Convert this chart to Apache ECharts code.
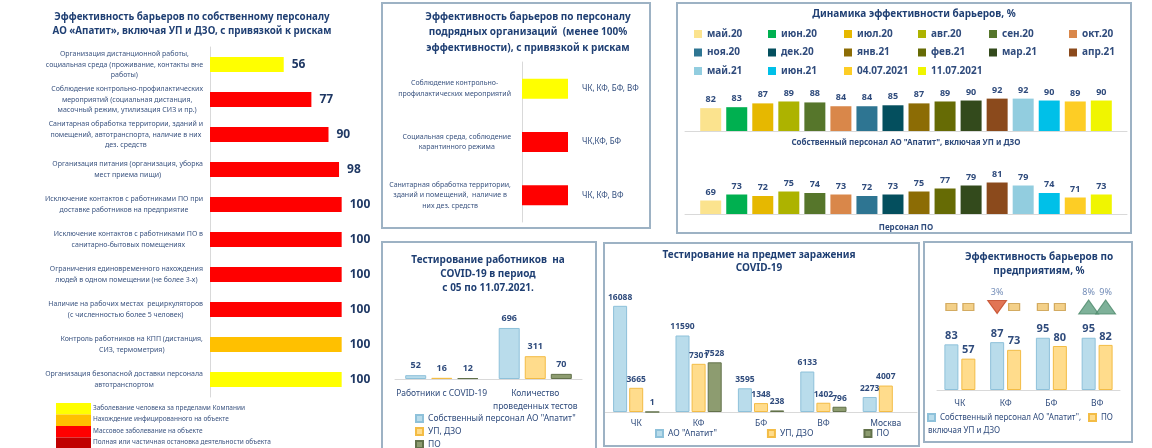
<!DOCTYPE html>
<html><head><meta charset="utf-8">
<script src="https://cdn.jsdelivr.net/npm/echarts@6/dist/echarts.min.js"></script>
<style>
html,body{margin:0;padding:0;background:#fff;width:1152px;height:448px;overflow:hidden;}
.p{position:absolute;box-sizing:border-box;}
.b{border:2px solid #9DB2C4;}
</style></head><body>
<div id="c1" class="p" style="left:0;top:0;width:380px;height:448px"></div>
<div id="c2" class="p b" style="left:381px;top:2px;width:270px;height:227px"></div>
<div id="c3" class="p b" style="left:676px;top:2px;width:456px;height:232px"></div>
<div id="c4" class="p b" style="left:381px;top:241px;width:216px;height:210px"></div>
<div id="c5" class="p b" style="left:603px;top:242px;width:317px;height:205px"></div>
<div id="c6" class="p b" style="left:923px;top:241px;width:210px;height:202px"></div>
<script>
// ---------- DATA ----------
const riskColors = ['#FFFF00', '#FFC000', '#FF0000', '#C00000'];
const riskNames = ['Заболевание человека за пределами Компании', 'Нахождение инфицированного на объекте', 'Массовое заболевание на объекте', 'Полная или частичная остановка деятельности объекта'];

const ownBarrierNames = [
  'Организация дистанционной работы,\nсоциальная среда (проживание, контакты вне\nработы)',
  'Соблюдение контрольно-профилактических\nмероприятий (социальная дистанция,\nмасочный режим, утилизация СИЗ и пр.)',
  'Санитарная обработка территории, зданий и\nпомещений, автотранспорта, наличие в них\nдез. средств',
  'Организация питания (организация, уборка\nмест приема пищи)',
  'Исключение контактов с работниками ПО при\nдоставке работников на предприятие',
  'Исключение контактов с работниками ПО в\nсанитарно-бытовых помещениях',
  'Ограничения единовременного нахождения\nлюдей в одном помещении (не более 3-х)',
  'Наличие на рабочих местах  рециркуляторов\n(с численностью более 5 человек)',
  'Контроль работников на КПП (дистанция,\nСИЗ, термометрия)',
  'Организация безопасной доставки персонала\nавтотранспортом'
];
const ownBarrierValues = [56, 77, 90, 98, 100, 100, 100, 100, 100, 100];
const ownBarrierRisk = [0, 2, 2, 2, 2, 2, 2, 2, 1, 0];

const contractorNames = [
  'Соблюдение контрольно-\nпрофилактических мероприятий',
  'Социальная среда, соблюдение\nкарантинного режима',
  'Санитарная обработка территории,\nзданий и помещений,  наличие в\nних дез. средств'
];
const contractorValues = [100, 100, 100];
const contractorRisk = [0, 2, 2];
const contractorSites = ['ЧК, КФ, БФ, ВФ', 'ЧК,КФ, БФ', 'ЧК, КФ, ВФ'];

const monthNames = ['май.20', 'июн.20', 'июл.20', 'авг.20', 'сен.20', 'окт.20', 'ноя.20', 'дек.20', 'янв.21', 'фев.21', 'мар.21', 'апр.21', 'май.21', 'июн.21', '04.07.2021', '11.07.2021'];
const monthColors = ['#FBE38E', '#00B050', '#E6B800', '#ADB300', '#56762B', '#D9874A', '#2E7592', '#044F5E', '#8C6C05', '#666B05', '#334A1C', '#8B4A1C', '#92CDDF', '#00C0E8', '#FDCD25', '#F0F500'];
const dynGroups = ['Собственный персонал АО "Апатит", включая УП и ДЗО', 'Персонал ПО'];
const dynOwn = [82, 83, 87, 89, 88, 84, 84, 85, 87, 89, 90, 92, 92, 90, 89, 90];
const dynPO = [69, 73, 72, 75, 74, 73, 72, 73, 75, 77, 79, 81, 79, 74, 71, 73];

const testCats = ['Работники с COVID-19', 'Количество\nпроведенных тестов'];
const testSeriesNames = ['Собственный персонал АО "Апатит"', 'УП, ДЗО', 'ПО'];
const testOwn = [52, 696];
const testUdzo = [16, 311];
const testPO = [12, 70];

const infCats = ['ЧК', 'КФ', 'БФ', 'ВФ', 'Москва'];
const infSeriesNames = ['АО "Апатит"', 'УП, ДЗО', 'ПО'];
const infOwn = [16088, 11590, 3595, 6133, 2273];
const infUdzo = [3665, 7301, 1348, 1402, 4007];
const infPO = [1, 7528, 238, 796, null];

const entCats = ['ЧК', 'КФ', 'БФ', 'ВФ'];
const entSeriesNames = ['Собственный персонал АО "Апатит", включая УП и ДЗО', 'ПО'];
const entOwnLegendLines = ['Собственный персонал АО "Апатит",', 'включая УП и ДЗО'];
const entOwn = [83, 87, 95, 95];
const entPO = [57, 73, 80, 82];
const entOwnChange = [0, -3, 0, 8];
const entPOChange = [0, 0, 0, 9];

// ---------- STYLE ----------
const FONT = '"Noto Sans", "DejaVu Sans", sans-serif';
const TITLE_COLOR = '#1F3F73';
const TEXT_COLOR = '#2F4B7C';
const LABEL_COLOR = '#3B5480';
const AXIS_COLOR = '#D9D9D9';
const BLUE = {color: '#B9DCEB', borderColor: '#8EC1DA', borderWidth: 1};
const YELLOW = {color: '#FFDC8C', borderColor: '#F3BC45', borderWidth: 1};
const GREEN = {color: '#8D9C70', borderColor: '#62714A', borderWidth: 1};

function mkTitle(text, cx, top, lh, size) {
  return {text: text, left: cx, top: top, textAlign: 'center', padding: 0,
    textStyle: {fontFamily: FONT, fontSize: size || 10, fontWeight: 'bold', color: TITLE_COLOR, lineHeight: lh || 14}};
}
function centeredLines(v) { return v.split('\n').map(l => '{c|' + l + '}').join('\n'); }
function valLabel(size, dist) {
  return {show: true, position: 'top', distance: dist, fontFamily: FONT, fontSize: size, fontWeight: 'bold', color: TEXT_COLOR};
}

// ---------- CHART 1 ----------
const ch1 = echarts.init(document.getElementById('c1'));
const legendGraphics = [];
riskColors.forEach((c, i) => {
  legendGraphics.push({type: 'rect', left: 56, top: 403 + i * 11.5, shape: {width: 35, height: 11.5}, style: {fill: c}});
  legendGraphics.push({type: 'text', left: 93, top: 404.5 + i * 11.5, style: {text: riskNames[i], font: '6.5px ' + FONT, fill: LABEL_COLOR}});
});
ch1.setOption({
  animation: false,
  title: mkTitle('Эффективность барьеров по собственному персоналу\nАО «Апатит», включая УП и ДЗО, с привязкой к рискам', 192, 10, 14, 9.8),
  grid: {left: 210, top: 47, width: 158, height: 350},
  xAxis: {type: 'value', min: 0, max: 120, show: false},
  yAxis: {type: 'category', inverse: true, data: ownBarrierNames,
    axisLine: {show: true, lineStyle: {color: AXIS_COLOR}}, axisTick: {show: false},
    axisLabel: {interval: 0, margin: 7, formatter: centeredLines, rich: {c: {align: 'center', fontFamily: FONT, fontSize: 7, color: LABEL_COLOR, lineHeight: 10.5}}}},
  series: [{type: 'bar', barWidth: 15,
    data: ownBarrierValues.map((v, i) => ({value: v, itemStyle: {color: riskColors[ownBarrierRisk[i]]}})),
    label: {show: true, position: 'right', distance: 8, fontFamily: FONT, fontSize: 12, fontWeight: 'bold', color: '#1F3864'}}],
  graphic: legendGraphics
});

// ---------- CHART 2 ----------
const ch2 = echarts.init(document.getElementById('c2'));
ch2.setOption({
  animation: false,
  title: mkTitle('Эффективность барьеров по персоналу\nподрядных организаций  (менее 100%\nэффективности), с привязкой к рискам', 145, 5, 15.5, 10),
  grid: {left: 139, top: 58, width: 46, height: 160},
  xAxis: {type: 'value', min: 0, max: 100, show: false},
  yAxis: {type: 'category', inverse: true, data: contractorNames,
    axisLine: {show: true, lineStyle: {color: AXIS_COLOR}}, axisTick: {show: false},
    axisLabel: {interval: 0, margin: 11, formatter: centeredLines, rich: {c: {align: 'center', fontFamily: FONT, fontSize: 7, color: LABEL_COLOR, lineHeight: 10.5}}}},
  series: [{type: 'bar', barWidth: 20,
    data: contractorValues.map((v, i) => ({value: v, itemStyle: {color: riskColors[contractorRisk[i]]},
      label: {formatter: contractorSites[i]}})),
    label: {show: true, position: 'right', distance: 14, fontFamily: FONT, fontSize: 8, color: TEXT_COLOR}}]
});

// ---------- CHART 3 ----------
const ch3 = echarts.init(document.getElementById('c3'));
const legColX = [16, 90, 166, 240, 311, 391];
const legRowY = [25, 43.5, 62];
const legends3 = monthNames.map((n, i) => ({
  data: [n], left: legColX[i % 6], top: legRowY[Math.floor(i / 6)], padding: 0,
  itemWidth: 8, itemHeight: 8, icon: 'rect',
  textStyle: {fontFamily: FONT, fontSize: 10, fontWeight: 'bold', color: TEXT_COLOR}
}));
const series3 = [];
[dynOwn, dynPO].forEach((arr, g) => {
  monthNames.forEach((n, i) => {
    series3.push({type: 'bar', name: n, xAxisIndex: g, yAxisIndex: g, data: [arr[i]],
      barWidth: 21, barGap: '24%', itemStyle: {color: monthColors[i]}, label: valLabel(9, 4)});
  });
});
ch3.setOption({
  animation: false,
  title: mkTitle('Динамика эффективности барьеров, %', 236, 3, 14, 10),
  legend: legends3,
  grid: [{left: 7, top: 87, width: 442, height: 40}, {left: 7, top: 172.5, width: 442, height: 40.5}],
  xAxis: dynGroups.map((gname, g) => ({type: 'category', gridIndex: g, data: [gname],
    axisLine: {lineStyle: {color: AXIS_COLOR}}, axisTick: {show: false},
    axisLabel: {interval: 0, margin: g ? 10 : 8, fontFamily: FONT, fontSize: 8, fontWeight: 'bold', color: TEXT_COLOR}})),
  yAxis: [{type: 'value', gridIndex: 0, min: 58, max: 100, show: false},
          {type: 'value', gridIndex: 1, min: 60, max: 85, show: false}],
  series: series3
});

// ---------- CHART 4 ----------
const ch4 = echarts.init(document.getElementById('c4'));
ch4.setOption({
  animation: false,
  title: mkTitle('Тестирование работников  на\nCOVID-19 в период\nс 05 по 11.07.2021.', 105, 10, 14, 10),
  legend: {orient: 'vertical', left: 32, top: 171, padding: 0, itemGap: 4, itemWidth: 7, itemHeight: 7, icon: 'rect',
    data: testSeriesNames, textStyle: {fontFamily: FONT, fontSize: 8.5, color: TEXT_COLOR}},
  grid: {left: 12, top: 70, width: 187, height: 66},
  xAxis: {type: 'category', data: testCats, axisLine: {lineStyle: {color: AXIS_COLOR}}, axisTick: {show: false},
    axisLabel: {interval: 0, margin: 8, fontFamily: FONT, fontSize: 8.5, color: TEXT_COLOR, lineHeight: 13}},
  yAxis: {type: 'value', min: 0, max: 900, show: false},
  series: [
    {type: 'bar', name: testSeriesNames[0], data: testOwn, barWidth: 21, barGap: '24%', itemStyle: BLUE, label: valLabel(9, 5)},
    {type: 'bar', name: testSeriesNames[1], data: testUdzo, barWidth: 21, barGap: '24%', itemStyle: YELLOW, label: valLabel(9, 5)},
    {type: 'bar', name: testSeriesNames[2], data: testPO, barWidth: 21, barGap: '24%', itemStyle: GREEN, label: valLabel(9, 5)}
  ]
});

// ---------- CHART 5 ----------
const ch5 = echarts.init(document.getElementById('c5'));
ch5.setOption({
  animation: false,
  title: mkTitle('Тестирование на предмет заражения\nCOVID-19', 154, 4, 13.5, 10),
  legend: {left: 50, top: 185, padding: 0, itemGap: 50, itemWidth: 7, itemHeight: 7, icon: 'rect',
    data: infSeriesNames, textStyle: {fontFamily: FONT, fontSize: 8.5, color: TEXT_COLOR}},
  grid: {left: 0, top: 36, width: 312, height: 132},
  xAxis: {type: 'category', data: infCats, axisLine: {lineStyle: {color: AXIS_COLOR}}, axisTick: {show: false},
    axisLabel: {interval: 0, margin: 7, fontFamily: FONT, fontSize: 8.5, color: TEXT_COLOR}},
  yAxis: {type: 'value', min: 0, max: 20000, show: false},
  series: [
    {type: 'bar', name: infSeriesNames[0], data: infOwn, barWidth: 14, barGap: '15%', itemStyle: BLUE, label: valLabel(8.5, 4)},
    {type: 'bar', name: infSeriesNames[1], data: infUdzo, barWidth: 14, barGap: '15%', itemStyle: YELLOW, label: valLabel(8.5, 4)},
    {type: 'bar', name: infSeriesNames[2], data: infPO, barWidth: 14, barGap: '15%', itemStyle: GREEN, label: valLabel(8.5, 4)}
  ]
});

// ---------- CHART 6 ----------
const ch6 = echarts.init(document.getElementById('c6'));
function changeMarker(c) {
  if (c > 0) return {value: 0, symbol: 'triangle', symbolSize: [20, 14], symbolRotate: 0,
    itemStyle: {color: '#5E9E80', borderColor: '#4E8A6C', borderWidth: 1},
    label: {show: true, formatter: c + '%'}};
  if (c < 0) return {value: 0, symbol: 'triangle', symbolSize: [19, 13], symbolRotate: 180,
    itemStyle: {color: '#D9532B', borderColor: '#C04420', borderWidth: 1},
    label: {show: true, formatter: Math.abs(c) + '%'}};
  return {value: 0, symbol: 'rect', symbolSize: [11, 7], itemStyle: {color: '#F0C46C', borderColor: '#C99C48', borderWidth: 1},
    label: {show: false}};
}
const markerLabel = {position: 'top', distance: 3, fontFamily: FONT, fontSize: 9, color: '#4F6FA5'};
ch6.setOption({
  animation: false,
  title: mkTitle('Эффективность барьеров по\nпредприятиям, %', 114, 7, 14, 10),
  legend: [
    {left: 2, top: 170, padding: 0, itemWidth: 7, itemHeight: 7, icon: 'rect', data: [entSeriesNames[0]],
      formatter: () => entOwnLegendLines[0],
      textStyle: {fontFamily: FONT, fontSize: 8, color: TEXT_COLOR}},
    {left: 163, top: 170, padding: 0, itemWidth: 7, itemHeight: 7, icon: 'rect', data: [entSeriesNames[1]],
      textStyle: {fontFamily: FONT, fontSize: 8, color: TEXT_COLOR}}
  ],
  graphic: [{type: 'text', left: 3, top: 183.5, style: {text: entOwnLegendLines[1], font: '8px ' + FONT, fill: TEXT_COLOR}}],
  grid: [{left: 12, top: 59, width: 183, height: 88}, {left: 12, top: 54, width: 183, height: 20}],
  xAxis: [
    {type: 'category', gridIndex: 0, data: entCats, axisLine: {lineStyle: {color: AXIS_COLOR}}, axisTick: {show: false},
      axisLabel: {interval: 0, margin: 9, fontFamily: FONT, fontSize: 8.5, color: TEXT_COLOR}},
    {type: 'category', gridIndex: 1, data: entCats, show: false}
  ],
  yAxis: [{type: 'value', gridIndex: 0, min: 0, max: 160, show: false},
          {type: 'value', gridIndex: 1, min: -1, max: 1, show: false}],
  series: [
    {type: 'bar', name: entSeriesNames[0], data: entOwn, barWidth: 14, barGap: '21%', itemStyle: BLUE, label: valLabel(11, 3)},
    {type: 'bar', name: entSeriesNames[1], data: entPO, barWidth: 14, barGap: '21%', itemStyle: YELLOW, label: valLabel(11, 3)},
    {type: 'scatter', xAxisIndex: 1, yAxisIndex: 1, symbolOffset: [-8.5, 0], data: entOwnChange.map(changeMarker), label: markerLabel},
    {type: 'scatter', xAxisIndex: 1, yAxisIndex: 1, symbolOffset: [8.5, 0], data: entPOChange.map(changeMarker), label: markerLabel}
  ]
});
</script>
</body></html>
